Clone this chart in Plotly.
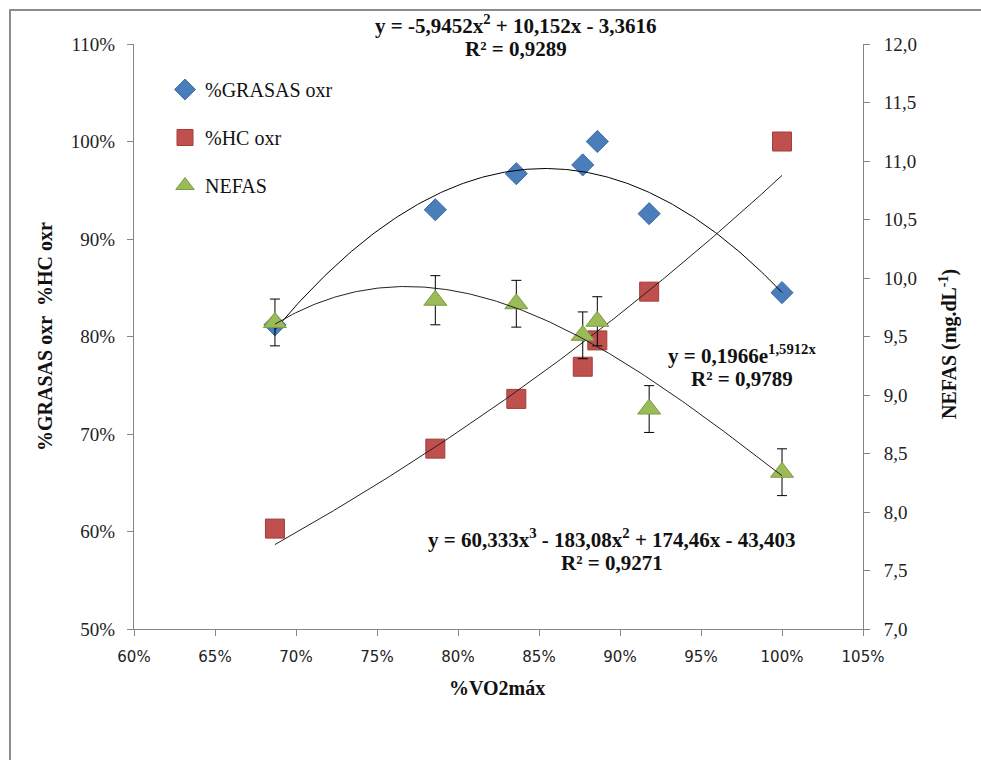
import numpy as np
import plotly.graph_objects as go

# ---- data ----
vo2 = [0.687, 0.786, 0.836, 0.877, 0.886, 0.918, 1.000]          # %VO2max
grasas = [0.812, 0.930, 0.967, 0.976, 1.000, 0.926, 0.845]       # %GRASAS oxr
hc = [0.603, 0.685, 0.736, 0.769, 0.796, 0.846, 1.000]           # %HC oxr
nefas = [9.62, 9.81, 9.78, 9.51, 9.63, 8.88, 8.34]               # NEFAS mg/dL
nefas_err = [0.20, 0.21, 0.20, 0.20, 0.21, 0.20, 0.20]

# trendline coefficients as displayed on the chart
grasas_poly = [-5.9452, 10.152, -3.3616]             # quadratic
hc_exp = [0.1966, 1.5912]                            # a*exp(b*x)
nefas_poly = [60.333, -183.08, 174.46, -43.403]      # cubic

x_ticks = [0.60, 0.65, 0.70, 0.75, 0.80, 0.85, 0.90, 0.95, 1.00, 1.05]
y_ticks = [0.5, 0.6, 0.7, 0.8, 0.9, 1.0, 1.1]
y2_ticks = [7.0, 7.5, 8.0, 8.5, 9.0, 9.5, 10.0, 10.5, 11.0, 11.5, 12.0]

# ---- layout geometry (pixels) ----
W, H = 981, 760
L, R, T, B = 134, 863, 44, 629
pw, ph = R - L, B - T


def px(xp):
    return (xp - L) / pw


def py(yp):
    return (B - yp) / ph


xt = np.linspace(min(vo2), max(vo2), 200)
serif = "Liberation Serif"

fig = go.Figure()

fig.add_trace(go.Scatter(
    x=vo2, y=grasas, mode="markers", name="%GRASAS oxr", legendgroup="g1",
    marker=dict(symbol="diamond", size=17, color="#4A7EBB",
                line=dict(color="#3A6AA5", width=1))))
fig.add_trace(go.Scatter(
    x=vo2, y=hc, mode="markers", name="%HC oxr", legendgroup="g2",
    marker=dict(symbol="square", size=19, color="#C0504D",
                line=dict(color="#A23D3A", width=1))))
fig.add_trace(go.Scatter(
    x=xt, y=np.polyval(grasas_poly, xt), mode="lines", showlegend=False,
    line=dict(color="black", width=1), hoverinfo="skip"))
fig.add_trace(go.Scatter(
    x=xt, y=hc_exp[0] * np.exp(hc_exp[1] * xt), mode="lines", showlegend=False,
    line=dict(color="#222222", width=1), hoverinfo="skip"))
fig.add_trace(go.Scatter(
    x=vo2, y=nefas, mode="markers", name="NEFAS", legendgroup="g3", yaxis="y2",
    marker=dict(symbol="triangle-up", size=20, color="#9BBB59",
                line=dict(color="#7E9C40", width=1)),
    error_y=dict(type="data", array=nefas_err, visible=True, color="black",
                 thickness=1, width=5)))
fig.add_trace(go.Scatter(
    x=xt, y=np.polyval(nefas_poly, xt), mode="lines", showlegend=False, yaxis="y2",
    line=dict(color="#222222", width=1), hoverinfo="skip"))

axis_common = dict(showgrid=False, zeroline=False, showline=True, linecolor="#868686",
                   linewidth=1, ticks="outside", ticklen=6, tickcolor="#868686")

fig.update_layout(
    width=W, height=H,
    margin=dict(l=L, r=W - R, t=T, b=H - B),
    paper_bgcolor="white", plot_bgcolor="white",
    xaxis=dict(range=[0.60, 1.05], tickvals=x_ticks, tickformat=".0%",
               tickfont=dict(family="DejaVu Sans", size=15, color="#222"),
               ticklabelstandoff=8, **axis_common),
    yaxis=dict(range=[0.5, 1.1], tickvals=y_ticks, tickformat=".0%",
               tickfont=dict(family=serif, size=19, color="#222"),
               ticklabelstandoff=8, **axis_common),
    yaxis2=dict(range=[7.0, 12.0], tickvals=y2_ticks,
                ticktext=[f"{v:.1f}".replace(".", ",") for v in y2_ticks],
                overlaying="y", side="right",
                tickfont=dict(family=serif, size=19, color="#222"),
                ticklabelstandoff=10, **axis_common),
    legend=dict(x=px(165), y=py(70), xanchor="left", yanchor="top",
                bgcolor="rgba(0,0,0,0)", tracegroupgap=19,
                font=dict(family=serif, size=20, color="#111")),
    showlegend=True,
)

ann = dict(showarrow=False, xref="paper", yref="paper", xanchor="center", yanchor="middle",
           font=dict(family=serif, size=21, color="#111"))
annotations = [
    dict(x=px(516), y=py(25), text="<b>y = -5,9452x<sup>2</sup> + 10,152x - 3,3616</b>"),
    dict(x=px(516), y=py(49), text="<b>R² = 0,9289</b>"),
    dict(x=px(742), y=py(354), text="<b>y = 0,1966e<sup>1,5912x</sup></b>"),
    dict(x=px(742), y=py(379), text="<b>R² = 0,9789</b>"),
    dict(x=px(612), y=py(538), text="<b>y = 60,333x<sup>3</sup> - 183,08x<sup>2</sup> + 174,46x - 43,403</b>"),
    dict(x=px(612), y=py(563), text="<b>R² = 0,9271</b>"),
    dict(x=px(497), y=py(688), text="<b>%VO2máx</b>", font=dict(family=serif, size=20, color="#111")),
    dict(x=px(45), y=py(337), text="<b>%GRASAS oxr\u00a0\u00a0%HC oxr</b>", textangle=-90,
         font=dict(family=serif, size=20, color="#111")),
    dict(x=px(948), y=py(344), text="<b>NEFAS (mg.dL<sup>-1</sup>)</b>", textangle=-90,
         font=dict(family=serif, size=20, color="#111")),
]
fig.update_layout(annotations=[{**ann, **a} for a in annotations])

# outer chart border (partly cut off at right and bottom in the reference)
fig.add_shape(type="rect", xref="paper", yref="paper",
              x0=px(10), y0=py(H + 50), x1=px(W + 50), y1=py(10),
              line=dict(color="#8C8C8C", width=2), fillcolor="rgba(0,0,0,0)", layer="below")

fig.write_html("out.html")
